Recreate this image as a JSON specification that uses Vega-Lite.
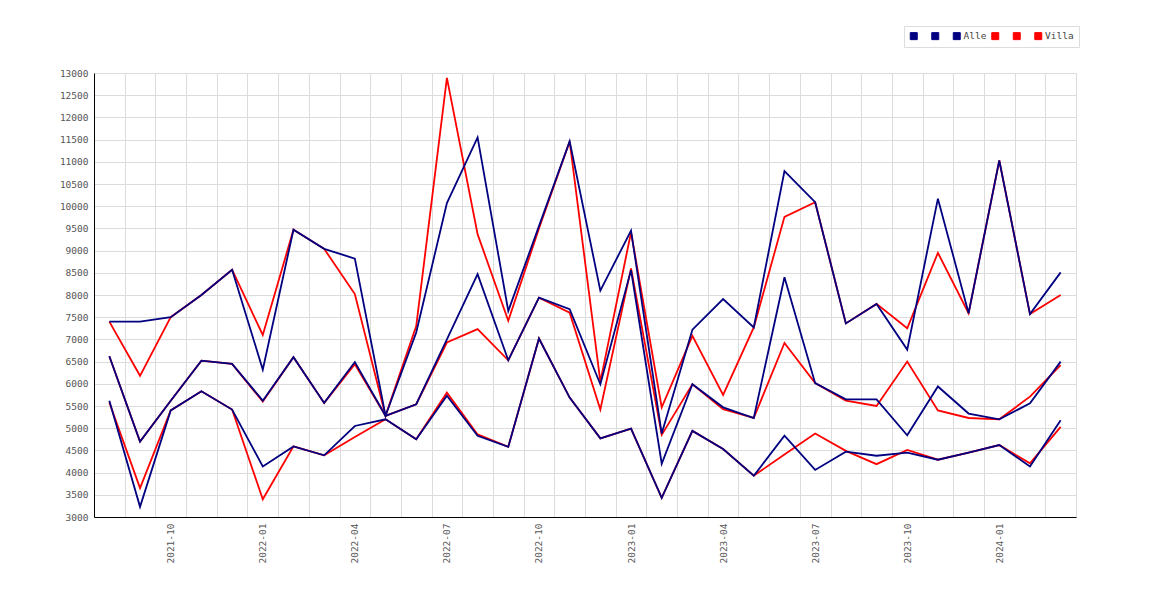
{
  "$schema": "https://vega.github.io/schema/vega-lite/v6.json",
  "width": 982,
  "height": 444,
  "autosize": "none",
  "padding": {"left": 94, "top": 73, "right": 94, "bottom": 83},
  "background": "white",
  "data": {
    "values": [
      {"maaned": "2021-08", "Alle_1": 7400, "Alle_2": 6620, "Alle": 5620, "Villa_1": 7400, "Villa_2": 6620, "Villa": 5580},
      {"maaned": "2021-09", "Alle_1": 7400, "Alle_2": 4700, "Alle": 3230, "Villa_1": 6180, "Villa_2": 4700, "Villa": 3650},
      {"maaned": "2021-10", "Alle_1": 7500, "Alle_2": 5620, "Alle": 5400, "Villa_1": 7500, "Villa_2": 5620, "Villa": 5400},
      {"maaned": "2021-11", "Alle_1": 8000, "Alle_2": 6520, "Alle": 5830, "Villa_1": 8000, "Villa_2": 6520, "Villa": 5830},
      {"maaned": "2021-12", "Alle_1": 8570, "Alle_2": 6450, "Alle": 5420, "Villa_1": 8570, "Villa_2": 6450, "Villa": 5420},
      {"maaned": "2022-01", "Alle_1": 6320, "Alle_2": 5620, "Alle": 4140, "Villa_1": 7100, "Villa_2": 5600, "Villa": 3400},
      {"maaned": "2022-02", "Alle_1": 9470, "Alle_2": 6600, "Alle": 4590, "Villa_1": 9470, "Villa_2": 6600, "Villa": 4590},
      {"maaned": "2022-03", "Alle_1": 9040, "Alle_2": 5570, "Alle": 4390, "Villa_1": 9040, "Villa_2": 5570, "Villa": 4390},
      {"maaned": "2022-04", "Alle_1": 8820, "Alle_2": 6490, "Alle": 5050, "Villa_1": 8020, "Villa_2": 6440, "Villa": 4800},
      {"maaned": "2022-05", "Alle_1": 5280, "Alle_2": 5280, "Alle": 5200, "Villa_1": 5280, "Villa_2": 5280, "Villa": 5200},
      {"maaned": "2022-06", "Alle_1": 7155, "Alle_2": 5540, "Alle": 4750, "Villa_1": 7300, "Villa_2": 5540, "Villa": 4750},
      {"maaned": "2022-07", "Alle_1": 10070, "Alle_2": 7000, "Alle": 5730, "Villa_1": 12890, "Villa_2": 6930, "Villa": 5800},
      {"maaned": "2022-08", "Alle_1": 11550, "Alle_2": 8470, "Alle": 4830, "Villa_1": 9370, "Villa_2": 7230, "Villa": 4860},
      {"maaned": "2022-09", "Alle_1": 7640, "Alle_2": 6530, "Alle": 4580, "Villa_1": 7420, "Villa_2": 6530, "Villa": 4580},
      {"maaned": "2022-10", "Alle_1": 9550, "Alle_2": 7940, "Alle": 7020, "Villa_1": 9500, "Villa_2": 7940, "Villa": 7020},
      {"maaned": "2022-11", "Alle_1": 11460, "Alle_2": 7680, "Alle": 5690, "Villa_1": 11460, "Villa_2": 7600, "Villa": 5690},
      {"maaned": "2022-12", "Alle_1": 8100, "Alle_2": 5990, "Alle": 4770, "Villa_1": 6050, "Villa_2": 5420, "Villa": 4770},
      {"maaned": "2023-01", "Alle_1": 9450, "Alle_2": 8560, "Alle": 4990, "Villa_1": 9410, "Villa_2": 8600, "Villa": 4990},
      {"maaned": "2023-02", "Alle_1": 4880, "Alle_2": 4200, "Alle": 3430, "Villa_1": 5470, "Villa_2": 4850, "Villa": 3430},
      {"maaned": "2023-03", "Alle_1": 7220, "Alle_2": 5990, "Alle": 4940, "Villa_1": 7080, "Villa_2": 5990, "Villa": 4940},
      {"maaned": "2023-04", "Alle_1": 7910, "Alle_2": 5470, "Alle": 4530, "Villa_1": 5750, "Villa_2": 5430, "Villa": 4530},
      {"maaned": "2023-05", "Alle_1": 7270, "Alle_2": 5230, "Alle": 3930, "Villa_1": 7270, "Villa_2": 5230, "Villa": 3930},
      {"maaned": "2023-06", "Alle_1": 10790, "Alle_2": 8400, "Alle": 4830, "Villa_1": 9760, "Villa_2": 6920, "Villa": 4410},
      {"maaned": "2023-07", "Alle_1": 10090, "Alle_2": 6015, "Alle": 4060, "Villa_1": 10090, "Villa_2": 6015, "Villa": 4880},
      {"maaned": "2023-08", "Alle_1": 7360, "Alle_2": 5650, "Alle": 4470, "Villa_1": 7360, "Villa_2": 5620, "Villa": 4490},
      {"maaned": "2023-09", "Alle_1": 7800, "Alle_2": 5650, "Alle": 4380, "Villa_1": 7800, "Villa_2": 5500, "Villa": 4190},
      {"maaned": "2023-10", "Alle_1": 6770, "Alle_2": 4840, "Alle": 4450, "Villa_1": 7250, "Villa_2": 6500, "Villa": 4510},
      {"maaned": "2023-11", "Alle_1": 10170, "Alle_2": 5940, "Alle": 4290, "Villa_1": 8950, "Villa_2": 5400, "Villa": 4290},
      {"maaned": "2023-12", "Alle_1": 7590, "Alle_2": 5330, "Alle": 4450, "Villa_1": 7590, "Villa_2": 5230, "Villa": 4450},
      {"maaned": "2024-01", "Alle_1": 11030, "Alle_2": 5200, "Alle": 4620, "Villa_1": 11030, "Villa_2": 5200, "Villa": 4620},
      {"maaned": "2024-02", "Alle_1": 7570, "Alle_2": 5560, "Alle": 4140, "Villa_1": 7570, "Villa_2": 5710, "Villa": 4210},
      {"maaned": "2024-03", "Alle_1": 8510, "Alle_2": 6500, "Alle": 5180, "Villa_1": 8000, "Villa_2": 6420, "Villa": 5030}
    ]
  },
  "transform": [
    {"fold": ["Alle_1", "Alle_2", "Alle", "Villa_1", "Villa_2", "Villa"], "as": ["serie", "verdi"]}
  ],
  "encoding": {
    "x": {
      "field": "maaned",
      "type": "ordinal",
      "bandPosition": 0.5,
      "scale": {"type": "band", "paddingInner": 0, "paddingOuter": 0},
      "axis": {
        "title": null,
        "grid": true,
        "tickBand": "extent",
        "gridOpacity": {"condition": {"test": "!isValid(datum.value) || datum.label === ''", "value": 0}, "value": 1},
        "ticks": false,
        "labelAngle": -90,
        "labelPadding": 6,
        "labelOverlap": false,
        "labelExpr": "test(/-(01|04|07|10)$/, datum.value) ? datum.value : ''"
      }
    },
    "y": {
      "field": "verdi",
      "type": "quantitative",
      "scale": {"domain": [3000, 13000], "nice": false, "zero": false},
      "axis": {
        "title": null,
        "ticks": false,
        "format": "d",
        "labelPadding": 6,
        "values": [3000, 3500, 4000, 4500, 5000, 5500, 6000, 6500, 7000, 7500, 8000, 8500, 9000, 9500, 10000, 10500, 11000, 11500, 12000, 12500, 13000]
      }
    },
    "color": {
      "field": "serie",
      "type": "nominal",
      "scale": {
        "domain": ["Alle_1", "Alle_2", "Alle", "Villa_1", "Villa_2", "Villa"],
        "range": ["#000080", "#000080", "#000080", "#ff0000", "#ff0000", "#ff0000"]
      },
      "legend": {
        "title": null,
        "orient": "none",
        "legendX": 810,
        "legendY": -47,
        "direction": "horizontal",
        "symbolType": "square",
        "symbolSize": 49,
        "symbolStrokeWidth": 1,
        "labelOffset": 2,
        "columnPadding": 2.5,
        "padding": 5,
        "strokeColor": "#dddddd",
        "fillColor": "white",
        "labelFont": "DejaVu Sans Mono",
        "labelFontSize": 9.5,
        "labelColor": "#444444",
        "labelExpr": "indexof(datum.label, '_') >= 0 ? 'x' : datum.label",
        "encode": {
          "symbols": {
            "update": {
              "fill": {"scale": "color", "field": "value"},
              "stroke": {"value": "#555555"},
              "opacity": {"value": 1}
            }
          },
          "labels": {
            "update": {
              "fillOpacity": {"signal": "indexof(datum.value, '_') >= 0 ? 0 : 1"}
            }
          }
        }
      }
    }
  },
  "layer": [
    {
      "transform": [{"filter": "indexof(datum.serie, 'Villa') === 0"}],
      "mark": {"type": "line", "strokeWidth": 1.8}
    },
    {
      "transform": [{"filter": "indexof(datum.serie, 'Alle') === 0"}],
      "mark": {"type": "line", "strokeWidth": 1.8}
    }
  ],
  "config": {
    "view": {"stroke": null},
    "axis": {
      "labelFont": "DejaVu Sans Mono",
      "labelFontSize": 9.5,
      "labelColor": "#555555",
      "gridColor": "#dcdcdc",
      "gridWidth": 1,
      "domainColor": "#000000",
      "domainWidth": 1
    }
  }
}
